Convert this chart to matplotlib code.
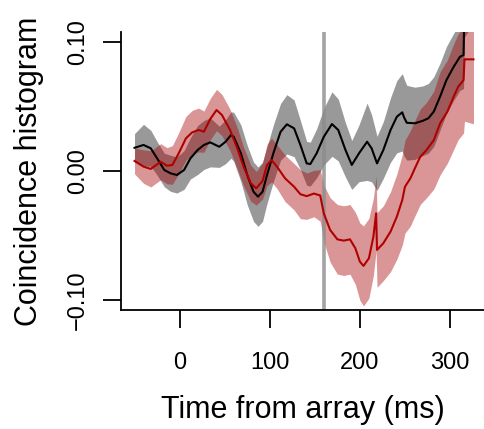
import matplotlib
matplotlib.use("Agg")
import matplotlib.pyplot as plt
import numpy as np

# black series: time (ms), value, half-width of the grey band
t_black = [-50, -40, -32, -25, -17, -10, -3, 5, 12, 20,
           27, 34, 44, 51, 57, 60, 68, 75, 82, 87,
           92, 97, 104, 112, 119, 127, 134, 141, 145, 152,
           160, 169, 176, 184, 191, 199, 208, 213, 219, 226,
           234, 241, 247, 249, 252, 261, 270, 276, 282, 289,
           296, 304, 311, 315, 316, 326]
black = [0.0180, 0.0202, 0.0176, 0.0099, 0.0008, -0.0018, -0.0031, 0.0008, 0.0098, 0.0163,
         0.0202, 0.0222, 0.0188, 0.0227, 0.0279, 0.0266, 0.0137, -0.0031, -0.0161, -0.0199,
         -0.0161, -0.0031, 0.0137, 0.0304, 0.0362, 0.0331, 0.0202, 0.0059, 0.0054, 0.0137,
         0.0266, 0.0364, 0.0318, 0.0163, 0.0047, 0.0137, 0.0227, 0.0176, 0.0059, 0.0163,
         0.0318, 0.0421, 0.0455, 0.0416, 0.0374, 0.0370, 0.0390, 0.0409, 0.0461, 0.0578,
         0.0705, 0.0808, 0.0886, 0.0899, 0.1300, 0.1400]
black_se = [0.011, 0.016, 0.014, 0.013, 0.013, 0.014, 0.014, 0.015, 0.016, 0.019,
            0.019, 0.019, 0.016, 0.017, 0.018, 0.019, 0.022, 0.023, 0.023, 0.023,
            0.023, 0.022, 0.022, 0.022, 0.023, 0.022, 0.019, 0.017, 0.017, 0.019,
            0.022, 0.025, 0.024, 0.021, 0.019, 0.022, 0.030, 0.026, 0.021, 0.022,
            0.025, 0.028, 0.030, 0.030, 0.029, 0.028, 0.027, 0.027, 0.027, 0.026,
            0.026, 0.026, 0.026, 0.026, 0.026, 0.026]

# red series
t_red = [-50, -40, -32, -21, -14, -8, -1, 7, 14, 21,
         27, 34, 41, 47, 56, 64, 71, 79, 85, 92,
         97, 102, 108, 117, 127, 134, 141, 149, 156, 160,
         167, 175, 182, 189, 195, 200, 204, 210, 215, 218,
         219, 226, 234, 241, 247, 250, 256, 261, 267, 274,
         282, 289, 297, 304, 309, 315, 316, 326]
red = [0.0078, 0.0034, 0.0016, 0.0072, 0.0041, 0.0047, 0.0137, 0.0253, 0.0300, 0.0318,
       0.0305, 0.0403, 0.0473, 0.0434, 0.0318, 0.0176, 0.0034, -0.0095, -0.0134, -0.0078,
       0.0047, 0.0085, 0.0034, -0.0057, -0.0122, -0.0180, -0.0195, -0.0175, -0.0190, -0.0330,
       -0.0457, -0.0530, -0.0540, -0.0530, -0.0600, -0.0703, -0.0736, -0.0677, -0.0509, -0.0328,
       -0.0612, -0.0560, -0.0470, -0.0354, -0.0225, -0.0122, -0.0057, 0.0021, 0.0111, 0.0163,
       0.0240, 0.0370, 0.0460, 0.0576, 0.0653, 0.0705, 0.0866, 0.0866]
red_se = [0.010, 0.013, 0.014, 0.014, 0.014, 0.015, 0.016, 0.017, 0.017, 0.017,
          0.016, 0.016, 0.016, 0.016, 0.016, 0.016, 0.015, 0.014, 0.013, 0.014,
          0.016, 0.017, 0.017, 0.018, 0.018, 0.019, 0.018, 0.018, 0.020, 0.022,
          0.025, 0.027, 0.027, 0.027, 0.028, 0.030, 0.031, 0.031, 0.030, 0.029,
          0.029, 0.029, 0.031, 0.033, 0.035, 0.036, 0.037, 0.037, 0.037, 0.037,
          0.038, 0.040, 0.040, 0.041, 0.041, 0.041, 0.048, 0.050]

marker_time = 160
x_ticks = [0, 100, 200, 300]
y_ticks = [-0.10, 0.00, 0.10]

plt.rcParams['font.family'] = ['Liberation Sans', 'DejaVu Sans']

fig = plt.figure(figsize=(4.84, 4.29), dpi=100)
ax = fig.add_axes([121 / 484, 119 / 429, 366 / 484, 278 / 429])

tb = np.array(t_black)
b = np.array(black)
bs = np.array(black_se)
tr = np.array(t_red)
r = np.array(red)
rs = np.array(red_se)

ax.fill_between(tb, b - bs, b + bs, color='black', alpha=0.4, linewidth=0)
ax.fill_between(tr, r - rs, r + rs, color='#a70000', alpha=0.41, linewidth=0)
ax.axvline(marker_time, color='#8c8c8c', alpha=0.8, linewidth=2.6)
ax.plot(tb, b, color='black', linewidth=1.5, solid_joinstyle='round')
ax.plot(tr, r, color='#b00000', linewidth=1.5, solid_joinstyle='round')

ax.set_xlim(-65, 341)
ax.set_ylim(-0.1078, 0.1078)
ax.spines['top'].set_visible(False)
ax.spines['right'].set_visible(False)
for s in ['left', 'bottom']:
    ax.spines[s].set_linewidth(1.3)

ax.set_xticks(x_ticks)
ax.set_yticks(y_ticks)
ax.set_yticklabels([('%.2f' % v).replace('-', '\u2212') for v in y_ticks],
                   rotation=90, va='center')
ax.tick_params(axis='both', direction='out', length=13, width=1.3, labelsize=17)
ax.tick_params(axis='x', pad=17)
ax.tick_params(axis='y', pad=10)

fig.text(303 / 484, 0.026, 'Time from array (ms)', fontsize=22, ha='center', va='baseline')
fig.text(0.06, 0.6, 'Coincidence histogram', fontsize=22, rotation=90, ha='center', va='center')

fig.savefig('out.png', dpi=100)
